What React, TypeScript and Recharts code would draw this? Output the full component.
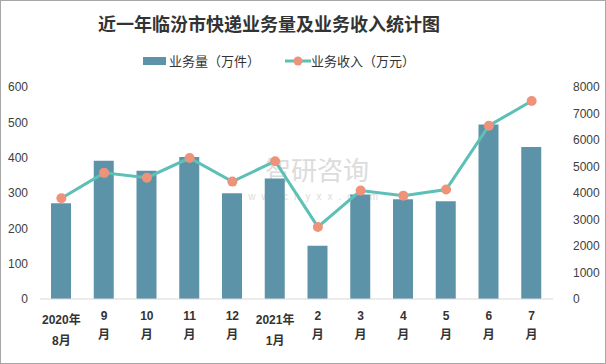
import { ComposedChart, Bar, Line, XAxis, YAxis, Legend } from 'recharts';

const monthsTop = ['2020年', '9', '10', '11', '12', '2021年', '2', '3', '4', '5', '6', '7'];
const monthsBottom = ['8月', '月', '月', '月', '月', '1月', '月', '月', '月', '月', '月', '月'];
const volume = [271, 391, 363, 402, 299, 341, 151, 296, 282, 277, 494, 430];
const revenue = [3800, 4760, 4580, 5320, 4430, 5200, 2720, 4090, 3900, 4130, 6540, 7470];
const leftTicks = [0, 100, 200, 300, 400, 500, 600];
const rightTicks = [0, 1000, 2000, 3000, 4000, 5000, 6000, 7000, 8000];

const BAR = '#5d93a9';
const LINE = '#5cc0b6';
const DOT = '#ef927a';
const FONT = "'Liberation Sans', 'Noto Sans CJK SC', sans-serif";

const data = monthsTop.map((m, i) => ({
  month: m + '|' + monthsBottom[i],
  volume: volume[i],
  revenue: revenue[i],
}));

const MonthTick = ({ x, y, payload }: any) => {
  const [top, bottom] = String(payload.value).split('|');
  const wide = top.length > 2;
  return (
    <g>
      <text x={x} y={y + (wide ? 23 : 19)} textAnchor="middle" fontSize={12} fontWeight="bold" fill="#333" fontFamily={FONT}>
        {top}
      </text>
      <text x={x} y={y + (wide ? 44 : 38)} textAnchor="middle" fontSize={12} fontWeight="bold" fill="#333" fontFamily={FONT}>
        {bottom}
      </text>
    </g>
  );
};

const LegendBox = () => (
  <div style={{ display: 'flex', alignItems: 'center', fontSize: 13, color: '#333', fontFamily: FONT }}>
    <span style={{ width: 23, height: 8, background: BAR, display: 'inline-block', marginRight: 3 }} />
    <span>业务量（万件）</span>
    <svg width={26} height={12} style={{ marginLeft: 25 }}>
      <line x1={0} y1={6} x2={26} y2={6} stroke={LINE} strokeWidth={3} />
      <circle cx={13} cy={6} r={4.5} fill={DOT} />
    </svg>
    <span>业务收入（万元）</span>
  </div>
);

export default function App() {
  return (
    <div
      style={{
        position: 'fixed',
        left: 0,
        top: 0,
        width: 606,
        height: 364,
        border: '1px solid #a6a6a6',
        boxSizing: 'border-box',
        background: '#fff',
        overflow: 'hidden',
      }}
    >
      <div
        style={{
          position: 'absolute',
          left: 97,
          top: 9,
          width: 330,
          textAlign: 'center',
          fontSize: 18,
          fontWeight: 'bold',
          color: '#333',
          fontFamily: "'Noto Sans CJK SC', sans-serif",
          whiteSpace: 'nowrap',
        }}
      >
        近一年临汾市快递业务量及业务收入统计图
      </div>
      <div style={{ position: 'absolute', left: 264, top: 152, fontSize: 26, lineHeight: '32px', color: '#d4d4d4', fontFamily: "'Noto Sans CJK SC', sans-serif", opacity: 0.8 }}>
        智研咨询
      </div>
      <div style={{ position: 'absolute', left: 234, top: 190, fontSize: 10, lineHeight: '12px', letterSpacing: 6, color: '#d4d4d4', fontFamily: FONT, opacity: 0.8 }}>
        www.chyxx.com
      </div>
      <div style={{ position: 'absolute', left: -1, top: -1 }}>
        <ComposedChart width={606} height={364} data={data} margin={{ top: 68, right: 0, bottom: 0, left: 0 }}>
          <Legend
            verticalAlign="top"
            content={() => <LegendBox />}
            wrapperStyle={{ position: 'absolute', top: 51, left: 143, width: 'auto' }}
          />
          <XAxis
            dataKey="month"
            height={65}
            tick={<MonthTick />}
            tickLine={false}
            axisLine={{ stroke: '#d9d9d9' }}
            interval={0}
            tickSize={0}
          />
          <YAxis
            yAxisId="left"
            width={40}
            domain={[0, 600]}
            ticks={leftTicks}
            axisLine={false}
            tickLine={false}
            tickSize={0}
            tickMargin={12}
            tick={{ fontSize: 12, fill: '#404040', fontFamily: FONT }}
          />
          <YAxis
            yAxisId="right"
            orientation="right"
            width={53}
            domain={[0, 8000]}
            ticks={rightTicks}
            axisLine={false}
            tickLine={false}
            tickSize={0}
            tickMargin={20}
            tick={{ fontSize: 12, fill: '#404040', fontFamily: FONT, textAnchor: 'start' }}
          />
          <Bar yAxisId="left" dataKey="volume" fill={BAR} barSize={20} isAnimationActive={false} />
          <Line
            yAxisId="right"
            dataKey="revenue"
            stroke={LINE}
            strokeWidth={3}
            dot={{ r: 5, fill: DOT, stroke: 'none' }}
            activeDot={false}
            isAnimationActive={false}
          />
        </ComposedChart>
      </div>
    </div>
  );
}
